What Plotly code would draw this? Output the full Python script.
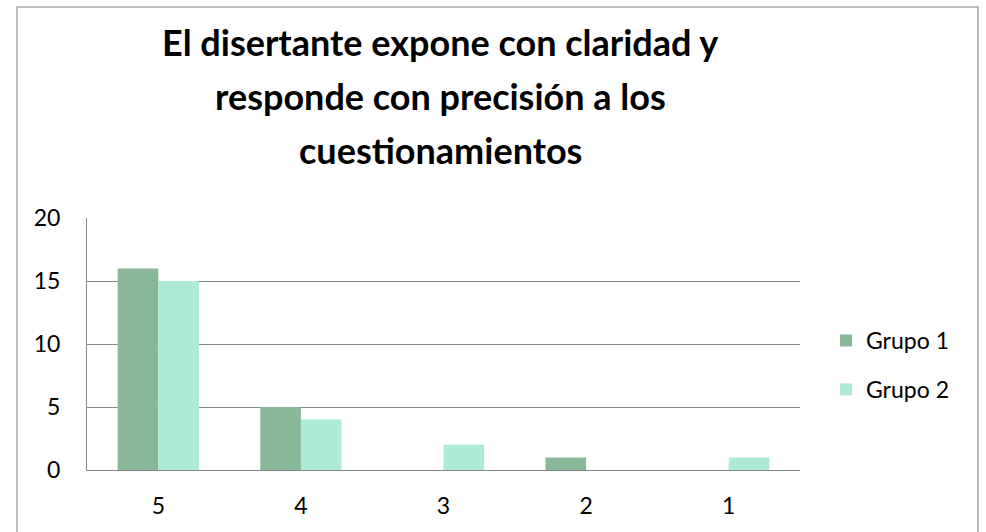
import plotly.graph_objects as go

categories = ["5", "4", "3", "2", "1"]
grupo1 = [16, 5, 0, 1, 0]
grupo2 = [15, 4, 2, 0, 1]
title_lines = ["El disertante expone con claridad y",
               "responde con precisión a los",
               "cuestionamientos"]

FONT = "Lato, Carlito, Calibri, sans-serif"

fig = go.Figure()
fig.add_trace(go.Bar(name="Grupo 1", x=categories, y=grupo1, legendgroup="g1",
                     marker=dict(color="#88B898", line=dict(width=0))))
fig.add_trace(go.Bar(name="Grupo 2", x=categories, y=grupo2, legendgroup="g2",
                     marker=dict(color="#ADEBD6", line=dict(width=0))))

L, R, T, B = 87, 800, 218, 470
W, H = 986, 532
ph = B - T
pw = R - L

def py(ypix):
    return (B - ypix) / ph

def px(xpix):
    return (xpix - L) / pw

annotations = []
centers = [42, 96, 150]
for line, yc in zip(title_lines, centers):
    annotations.append(dict(text=f"<b>{line}</b>", xref="paper", yref="paper",
                            x=px(440), y=py(yc), xanchor="center", yanchor="middle",
                            showarrow=False, font=dict(family=FONT, size=36, color="#000000")))

fig.update_layout(
    width=W, height=H,
    margin=dict(l=L, r=W - R, t=T, b=H - B, pad=0),
    paper_bgcolor="white", plot_bgcolor="white",
    barmode="group", bargap=0.43, bargroupgap=0,
    font=dict(family=FONT, size=23, color="#000000"),
    showlegend=True,
    legend=dict(x=px(826), y=py(365), xanchor="left", yanchor="middle",
                font=dict(family=FONT, size=23, color="#000000"),
                traceorder="grouped", tracegroupgap=16, itemwidth=30,
                bgcolor="rgba(0,0,0,0)"),
    annotations=annotations,
    shapes=[dict(type="rect", xref="paper", yref="paper",
                 x0=px(17), x1=px(978), y0=py(600), y1=py(7),
                 line=dict(color="#A6A6A6", width=1.5), fillcolor="rgba(0,0,0,0)",
                 layer="below")],
    xaxis=dict(showline=True, linecolor="#888888", linewidth=1, showgrid=False,
               ticks="", tickfont=dict(size=23), ticklabelstandoff=15,
               fixedrange=True),
    yaxis=dict(range=[0, 20], dtick=5, showline=True, linecolor="#888888", linewidth=1,
               showgrid=True, gridcolor="#888888", gridwidth=1, zeroline=False,
               ticks="", tickfont=dict(size=23), ticklabelstandoff=21,
               fixedrange=True),
)

fig.write_html("out.html", config={"displayModeBar": False},
               post_script="document.body.style.margin='0';document.body.style.overflow='hidden';")
